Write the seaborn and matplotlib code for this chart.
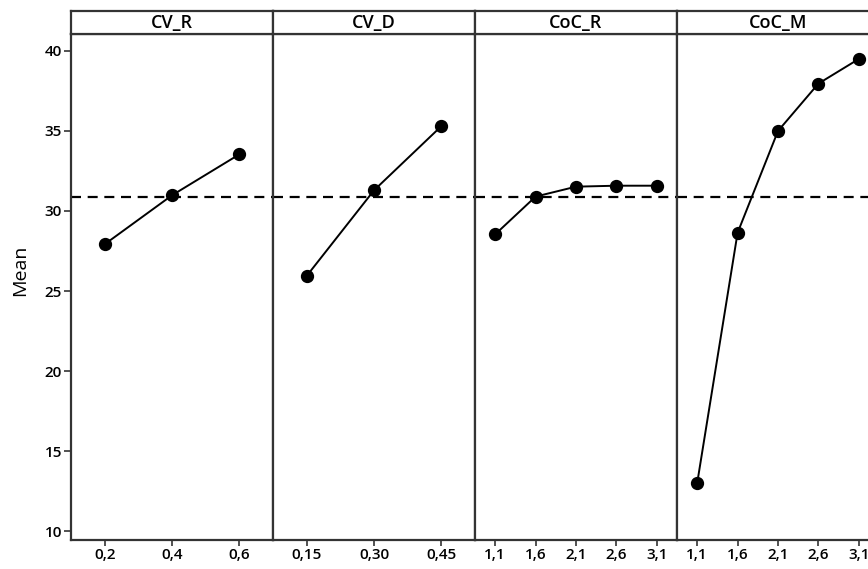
import matplotlib
matplotlib.use("Agg")
import matplotlib.pyplot as plt
import seaborn as sns
import pandas as pd

# Factor levels and mean responses for each factor
cv_r_levels = ["0,2", "0,4", "0,6"]
cv_r_means = [27.92, 30.98, 33.54]

cv_d_levels = ["0,15", "0,30", "0,45"]
cv_d_means = [25.94, 31.29, 35.30]

coc_r_levels = ["1,1", "1,6", "2,1", "2,6", "3,1"]
coc_r_means = [28.54, 30.90, 31.52, 31.58, 31.58]

coc_m_levels = ["1,1", "1,6", "2,1", "2,6", "3,1"]
coc_m_means = [13.00, 28.64, 35.00, 37.96, 39.50]

factor_names = ["CV_R", "CV_D", "CoC_R", "CoC_M"]
grand_mean = 30.9
y_ticks = [10, 15, 20, 25, 30, 35, 40]

panels = [
    (factor_names[0], cv_r_levels, cv_r_means),
    (factor_names[1], cv_d_levels, cv_d_means),
    (factor_names[2], coc_r_levels, coc_r_means),
    (factor_names[3], coc_m_levels, coc_m_means),
]

sns.set_theme(style="white")
plt.rcParams["font.family"] = ["Open Sans", "DejaVu Sans"]
plt.rcParams["text.color"] = "black"
plt.rcParams["xtick.labelcolor"] = "black"
plt.rcParams["ytick.labelcolor"] = "black"

W, H = 868, 569
fig = plt.figure(figsize=(W / 100, H / 100), dpi=100)

frame_color = "#333333"
left_px, panel_w_px = 71, 202
plot_top_px, plot_bot_px = 34, 540
head_top_px = 11

for i, (name, levels, means) in enumerate(panels):
    x0 = (left_px + i * panel_w_px) / W
    w = panel_w_px / W
    b = 1 - plot_bot_px / H
    h = (plot_bot_px - plot_top_px) / H
    ax = fig.add_axes([x0, b, w, h])

    df = pd.DataFrame({"level": levels, "mean": means})
    sns.pointplot(data=df, x="level", y="mean", order=levels, ax=ax,
                  color="black", markers="o", errorbar=None,
                  markersize=8.5, linewidth=1.4)
    ax.axhline(grand_mean, color="black", linestyle=(0, (4.5, 3)),
               linewidth=1.6, zorder=0)

    ax.set_xlim(-0.5, len(levels) - 0.5)
    ax.set_ylim(9.44, 41.06)
    ax.set_xlabel("")
    ax.set_ylabel("")
    for sp in ax.spines.values():
        sp.set_color(frame_color)
        sp.set_linewidth(1.6)
        sp.set_visible(True)
    ax.tick_params(axis="x", bottom=True, length=4, width=1.2,
                   color=frame_color, labelcolor="black", labelsize=11,
                   pad=1.5)
    if i == 0:
        ax.set_yticks(y_ticks)
        ax.tick_params(axis="y", left=True, length=5, width=1.2,
                       color=frame_color, labelcolor="black", labelsize=11,
                       pad=1.5)
    else:
        ax.set_yticks([])
    for lab in ax.get_xticklabels() + ax.get_yticklabels():
        lab.set_fontweight("semibold")

    # Factor name header strip
    hb = 1 - plot_top_px / H
    hh = (plot_top_px - head_top_px) / H
    hax = fig.add_axes([x0, hb, w, hh])
    hax.set_xticks([])
    hax.set_yticks([])
    hax.set_facecolor("white")
    for sp in hax.spines.values():
        sp.set_color(frame_color)
        sp.set_linewidth(1.6)
    hax.text(0.5, 0.25, name, ha="center", va="baseline", fontsize=13,
             fontweight="semibold", color="black", transform=hax.transAxes)

fig.text(20 / W, 1 - 270 / H, "Mean", rotation=90, ha="center",
         va="center", fontsize=14, color="black")

fig.savefig("out.png", dpi=100)
